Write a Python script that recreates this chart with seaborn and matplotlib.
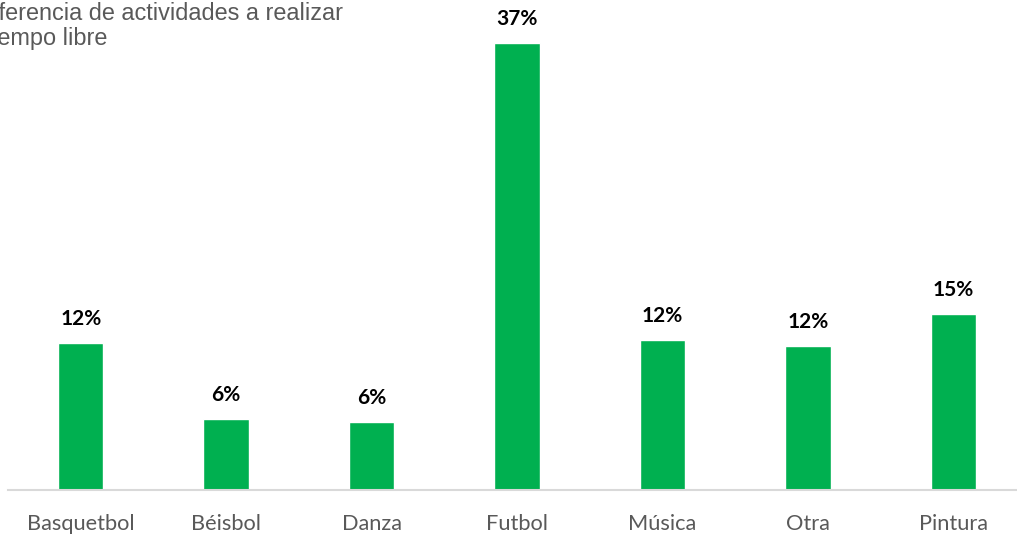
import matplotlib
matplotlib.use("Agg")
import matplotlib.pyplot as plt
import seaborn as sns
import pandas as pd

categorias = ["Basquetbol", "Béisbol", "Danza", "Futbol", "Música", "Otra", "Pintura"]
porcentajes = [12.2, 5.9, 5.6, 37.0, 12.4, 11.9, 14.6]
etiquetas = ["12%", "6%", "6%", "37%", "12%", "12%", "15%"]
titulo_1 = "Preferencia de actividades a realizar"
titulo_2 = "en tiempo libre"

df = pd.DataFrame({"actividad": categorias, "pct": porcentajes})

sns.set_style("white")
plt.rcParams["font.family"] = ["Lato", "DejaVu Sans"]

W, H = 1017, 538
fig = plt.figure(figsize=(W / 100, H / 100), dpi=100)
# axes run past the right edge, like the cropped original
ax = fig.add_axes([8 / W, 48 / H, 1018 / W, 483 / H])

sns.barplot(data=df, x="actividad", y="pct", color="#00b050", width=0.313,
            saturation=1, ax=ax)

for i, (v, lab) in enumerate(zip(porcentajes, etiquetas)):
    ax.annotate(lab, (i, v), xytext=(0, 10), textcoords="offset points",
                ha="center", va="bottom", fontsize=15, fontweight="bold",
                color="black")

ax.set_xlim(-0.5, 6.5)
ax.set_ylim(0, 40)
ax.set_xlabel("")
ax.set_ylabel("")
ax.set_yticks([])
for s in ["top", "right", "left"]:
    ax.spines[s].set_visible(False)
ax.spines["bottom"].set_color("#d9d9d9")
ax.spines["bottom"].set_linewidth(1.5)
ax.tick_params(axis="x", length=0, pad=17, labelsize=15.7, labelcolor="#595959")

# title, partly cut at the left edge as in the original
fig.text(-38 / W, 1 - 20 / H, titulo_1, ha="left", va="baseline",
         fontsize=16.9, color="#595959", family=["Liberation Sans"])
fig.text(-47 / W, 1 - 45 / H, titulo_2, ha="left", va="baseline",
         fontsize=16.9, color="#595959", family=["Liberation Sans"])

fig.savefig("out.png", dpi=100)
